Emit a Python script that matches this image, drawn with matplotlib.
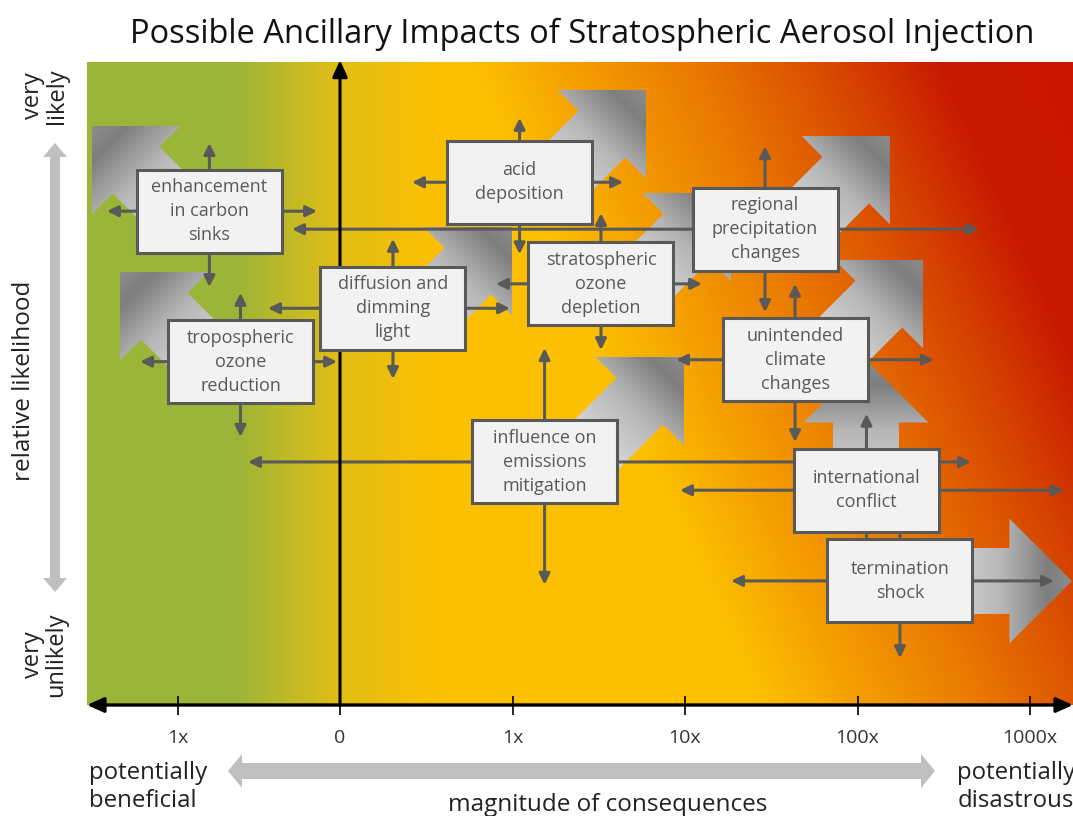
import numpy as np
import matplotlib
matplotlib.use("Agg")
import matplotlib.pyplot as plt
from matplotlib.patches import Polygon, FancyArrowPatch, Rectangle

plt.rcParams['font.family'] = ['Open Sans', 'DejaVu Sans']

# ---------------- data ----------------
impacts = ["enhancement\nin carbon\nsinks", "tropospheric\nozone\nreduction",
           "diffusion and\ndimming\nlight", "acid\ndeposition",
           "stratospheric\nozone\ndepletion", "regional\nprecipitation\nchanges",
           "unintended\nclimate\nchanges", "influence on\nemissions\nmitigation",
           "international\nconflict", "termination\nshock"]
mag_center = [-0.757, -0.577, 0.307, 1.041, 1.513, 2.464, 2.638, 1.186, 3.052, 3.246]
mag_low    = [-1.351, -1.159, -0.417, 0.417, 0.904, -0.278, 1.948, -0.533, 1.971, 2.267]
mag_high   = [-0.133, -0.017, 0.986, 1.641, 2.099, 3.704, 3.443, 3.658, 4.197, 4.139]
lik_center = [0.768, 0.534, 0.617, 0.813, 0.655, 0.740, 0.537, 0.378, 0.334, 0.193]
lik_low    = [0.650, 0.417, 0.507, 0.701, 0.552, 0.611, 0.409, 0.187, 0.226, 0.073]
lik_high   = [0.874, 0.641, 0.725, 0.913, 0.765, 0.869, 0.655, 0.555, 0.453, 0.366]
# trend arrows (tip position, direction in degrees)
trend_tip_mag = [-1.438, -1.275, 0.997, 1.774, 2.267, 3.188, 3.380, 1.994, 3.049, 4.243]
trend_tip_lik = [0.9005, 0.6734, 0.7434, 0.9565, 0.7963, 0.8849, 0.6921, 0.5412, 0.5365, 0.1928]
trend_angle   = [135, 135, 45, 45, 45, 45, 45, 45, 90, 0]

tick_pos = [-0.94, 0, 1, 2, 3, 4]
tick_labels = ["1x", "0", "1x", "10x", "100x", "1000x"]

title = "Possible Ancillary Impacts of Stratospheric Aerosol Injection"

# ---------------- figure ----------------
FW, FH = 1073, 816
fig = plt.figure(figsize=(FW / 100, FH / 100), dpi=100)

# overlay axes in pixel coordinates for decorations
ov = fig.add_axes([0, 0, 1, 1])
ov.set_xlim(0, FW)
ov.set_ylim(FH, 0)
ov.axis('off')
ov.patch.set_alpha(0)

PL, PR, PT, PB = 87, 1073, 62, 705
ax = fig.add_axes([PL / FW, (FH - PB) / FH, (PR - PL) / FW, (PB - PT) / FH])
XLIM = ((PL - 340) / 172.5, (PR - 340) / 172.5)
YLIM = (0, 1)
ax.set_xlim(*XLIM)
ax.set_ylim(*YLIM)
ax.set_autoscale_on(False)
ax.axis('off')


def rgb_interp(vals, stops, colors):
    c = np.array(colors, float) / 255
    return np.stack([np.interp(vals, stops, c[:, i]) for i in range(3)], axis=-1)


# background gradient
pxs = np.arange(PL, PR) + 0.5
pys = np.arange(PT, PB) + 0.5
PX, PY = np.meshgrid(pxs, pys)
left = rgb_interp(PX, [87, 235, 340, 440],
                  [(155, 181, 56), (155, 181, 56), (226, 190, 22), (253, 192, 0)])
S = PX - 0.45 * (PY - PT)
right = rgb_interp(S, [470, 560, 700, 840, 940, 1100],
                   [(253, 192, 0), (245, 162, 0), (233, 118, 0), (214, 68, 0),
                    (200, 25, 0), (200, 20, 0)])
bg = np.where((PX < 440)[..., None], left, right)
ax.imshow(bg, extent=(XLIM[0], XLIM[1], 0, 1), origin='upper', aspect='auto',
          zorder=0, interpolation='bilinear')

T = ax.transData
Ti = T.inverted()


def draw_trend(tip, ang, cen):
    tip_d = T.transform(tip)
    c_d = T.transform(cen)
    a = np.deg2rad(ang)
    u = np.array([np.cos(a), np.sin(a)])
    n = np.array([-u[1], u[0]])
    L = 0.92 * np.dot(tip_d - c_d, u)
    hl, hw, sw = 62.5, 62.5, 33
    base = tip_d - u * hl
    tail = tip_d - u * L
    vd = np.array([tip_d, base + n * hw, base + n * sw, tail + n * sw,
                   tail - n * sw, base - n * sw, base - n * hw])
    poly = Polygon(Ti.transform(vd), closed=True, facecolor='none',
                   edgecolor='none', zorder=1)
    ax.add_patch(poly)
    xmin, ymin = vd.min(0)
    xmax, ymax = vd.max(0)
    gx = np.linspace(xmin, xmax, 220)
    gy = np.linspace(ymax, ymin, 220)
    GX, GY = np.meshgrid(gx, gy)
    D = (tip_d[0] - GX) * u[0] + (tip_d[1] - GY) * u[1]
    g = np.interp(D, [0, 25, 70, 130], [140, 126, 182, 218]) / 255
    im = np.dstack([g, g, g])
    (x0, y0), (x1, y1) = Ti.transform([[xmin, ymin], [xmax, ymax]])
    art = ax.imshow(im, extent=(x0, x1, y0, y1), origin='upper', aspect='auto',
                    zorder=1, interpolation='bilinear')
    art.set_clip_path(poly)


for i in range(len(impacts)):
    draw_trend((trend_tip_mag[i], trend_tip_lik[i]), trend_angle[i],
               (mag_center[i], lik_center[i]))

# range arrows
ARW = dict(arrowstyle='-|>,head_length=0.65,head_width=0.32', mutation_scale=10,
           lw=2.2, color='#595959', shrinkA=0, shrinkB=0, zorder=3)
for i in range(len(impacts)):
    c = (mag_center[i], lik_center[i])
    for end in [(mag_low[i], c[1]), (mag_high[i], c[1]),
                (c[0], lik_low[i]), (c[0], lik_high[i])]:
        ax.add_patch(FancyArrowPatch(c, end, **ARW))

# axes lines
ax.add_patch(FancyArrowPatch((0, 0), (0, 1.003),
                             arrowstyle='-|>,head_length=1.0,head_width=0.45',
                             mutation_scale=10, lw=2.2, color='black',
                             shrinkA=0, shrinkB=0, zorder=3.5, clip_on=False))
ax.add_patch(FancyArrowPatch((XLIM[0], 0), (XLIM[1], 0),
                             arrowstyle='<|-|>,head_length=1.0,head_width=0.45',
                             mutation_scale=10, lw=2.4, color='black',
                             shrinkA=0, shrinkB=0, zorder=3.5, clip_on=False))
ax.vlines(tick_pos, -0.0156, 0.014, colors='black', lw=1.2, zorder=3.5,
          clip_on=False)
for p, lab in zip(tick_pos, tick_labels):
    ax.text(p, -0.052, lab, ha='center', va='center', fontsize=14,
            color='#333333', transform=ax.get_xaxis_transform(), clip_on=False)

# boxes
bw = 145 / 172.5
bh = 83 / 643
for i, name in enumerate(impacts):
    cx, cy = mag_center[i], lik_center[i]
    ax.add_patch(Rectangle((cx - bw / 2, cy - bh / 2), bw, bh, facecolor='#f2f2f2',
                           edgecolor='#595959', lw=2.2, zorder=4))
    ax.text(cx, cy, name, ha='center', va='center', fontsize=13, color='#595959',
            linespacing=1.42, zorder=5)

ax.set_xlim(*XLIM)
ax.set_ylim(*YLIM)


# ---------------- decorations ----------------
def double_arrow(x0, x1, c, sw, hw, hl, vertical=False):
    pts = [(x0, c), (x0 + hl, c - hw), (x0 + hl, c - sw), (x1 - hl, c - sw),
           (x1 - hl, c - hw), (x1, c), (x1 - hl, c + hw), (x1 - hl, c + sw),
           (x0 + hl, c + sw), (x0 + hl, c + hw)]
    if vertical:
        pts = [(b, a) for a, b in pts]
    ov.add_patch(Polygon(pts, closed=True, facecolor='#bfbfbf', edgecolor='none'))


double_arrow(228, 935, 771, 8, 17, 14)
double_arrow(143, 592, 55, 5, 12, 14, vertical=True)

ov.text(582, 34, title, ha='center', va='center', fontsize=23.5, color='#111111')
ov.text(89, 787, "potentially\nbeneficial", ha='left', va='center', fontsize=17.3,
        color='#222222', linespacing=1.2)
ov.text(1016, 787, "potentially\ndisastrous", ha='center', va='center',
        fontsize=17.3, color='#222222', linespacing=1.2)
ov.text(608, 805, "magnitude of consequences", ha='center', va='center',
        fontsize=17.5, color='#222222')
ov.text(45, 96, "very\nlikely", ha='center', va='center', rotation=90,
        fontsize=17, color='#222222', linespacing=0.95, multialignment='center')
ov.text(45, 655, "very\nunlikely", ha='center', va='center', rotation=90,
        fontsize=17, color='#222222', linespacing=0.95, multialignment='center')
ov.text(24, 381, "relative likelihood", ha='center', va='center', rotation=90,
        fontsize=17.5, color='#222222')

fig.savefig("out.png", dpi=100)
